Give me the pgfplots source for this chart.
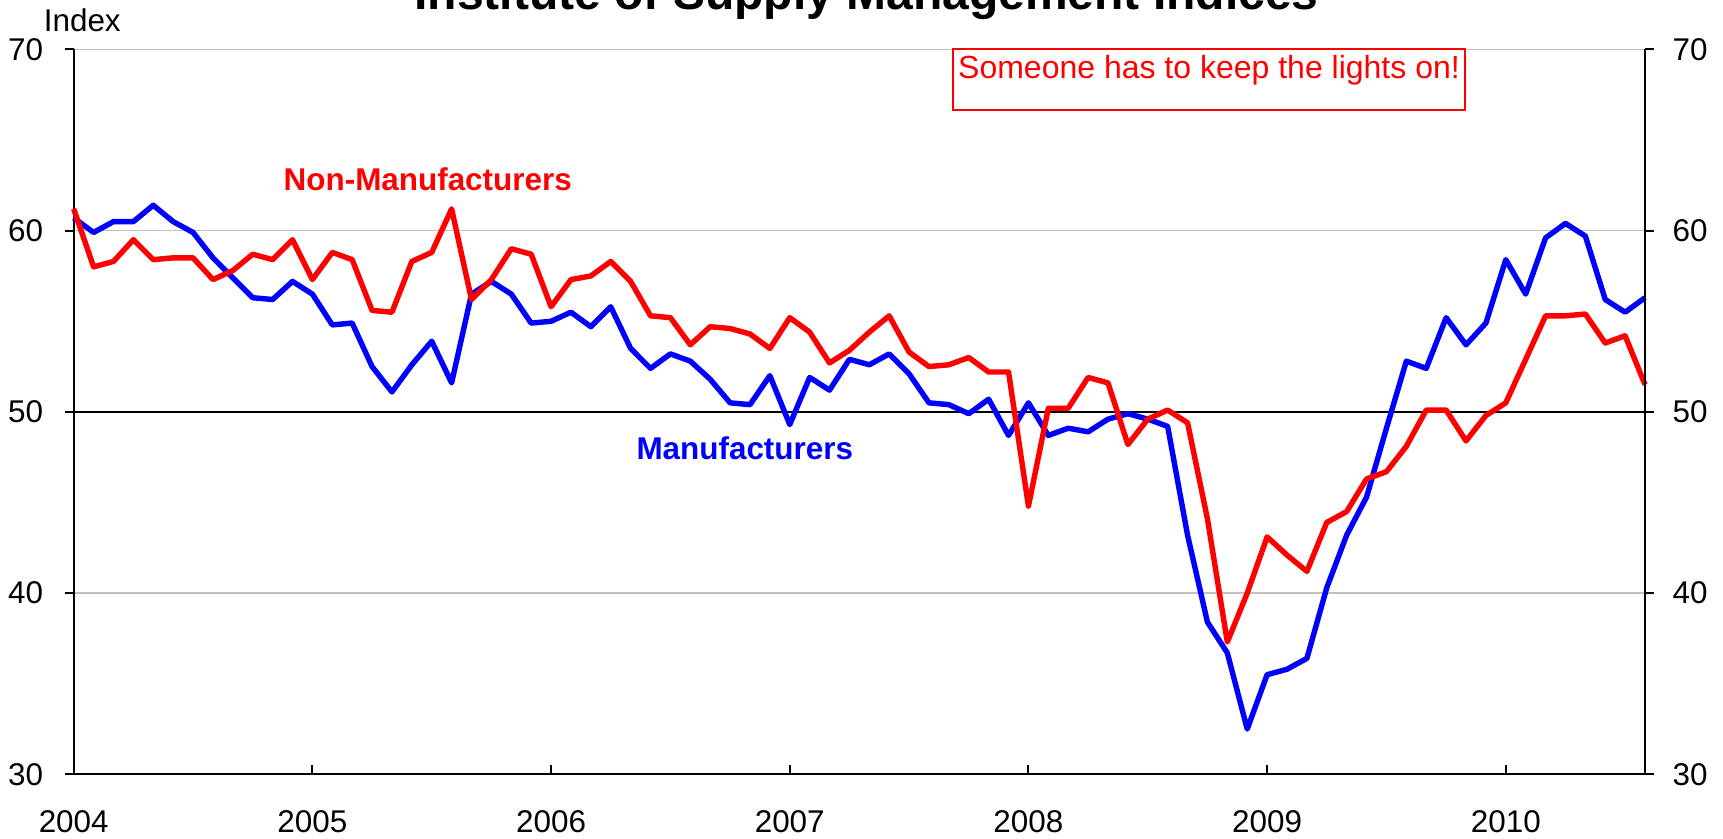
\documentclass[border=0pt]{standalone}
\usepackage{pgfplots}
\pgfplotsset{compat=1.18}
\usepackage{pgfplotstable}
\usepackage{fontspec}
\setmainfont{Liberation Sans}

\definecolor{gridgray}{RGB}{192,192,192}

% monthly index values, Jan 2004 = 0
\pgfplotstableread{
m   man   non
0   60.7  61.2
1   59.9  58.0
2   60.5  58.3
3   60.5  59.5
4   61.4  58.4
5   60.5  58.5
6   59.9  58.5
7   58.5  57.3
8   57.4  57.8
9   56.3  58.7
10  56.2  58.4
11  57.2  59.5
12  56.5  57.3
13  54.8  58.8
14  54.9  58.4
15  52.5  55.6
16  51.1  55.5
17  52.6  58.3
18  53.9  58.8
19  51.6  61.2
20  56.5  56.2
21  57.2  57.3
22  56.5  59.0
23  54.9  58.7
24  55.0  55.8
25  55.5  57.3
26  54.7  57.5
27  55.8  58.3
28  53.5  57.2
29  52.4  55.3
30  53.2  55.2
31  52.8  53.7
32  51.8  54.7
33  50.5  54.6
34  50.4  54.3
35  52.0  53.5
36  49.3  55.2
37  51.9  54.4
38  51.2  52.7
39  52.9  53.4
40  52.6  54.4
41  53.2  55.3
42  52.1  53.3
43  50.5  52.5
44  50.4  52.6
45  49.9  53.0
46  50.7  52.2
47  48.7  52.2
48  50.5  44.8
49  48.7  50.2
50  49.1  50.2
51  48.9  51.9
52  49.6  51.6
53  49.9  48.2
54  49.6  49.6
55  49.2  50.1
56  43.2  49.4
57  38.4  44.1
58  36.7  37.3
59  32.5  40.0
60  35.5  43.1
61  35.8  42.1
62  36.4  41.2
63  40.3  43.9
64  43.2  44.5
65  45.3  46.3
66  49.1  46.7
67  52.8  48.1
68  52.4  50.1
69  55.2  50.1
70  53.7  48.4
71  54.9  49.8
72  58.4  50.5
73  56.5  52.9
74  59.6  55.3
75  60.4  55.3
76  59.7  55.4
77  56.2  53.8
78  55.5  54.2
79  56.3  51.5
}\ismdata

\pgfplotsset{
  ismbase/.style={
    width=550pt, height=253.75pt, scale only axis,
    xmin=0, xmax=79, ymin=30, ymax=70,
    ytick={30,40,...,70},
    axis line style={-, line width=0.7pt, black},
    major tick length=3.15pt,
    tick style={line width=0.7pt, black},
    tick label style={font=\fontsize{11}{13}\selectfont},
    /pgf/number format/assume math mode=true,
  }
}

\begin{document}
\begin{tikzpicture}
\begin{axis}[ismbase,
  axis x line*=bottom, axis y line*=left,
  xtick={0,12,...,72},
  xticklabels={2004,2005,2006,2007,2008,2009,2010},
  xtick align=inside, ytick align=outside,
  xticklabel style={yshift=-9pt},
  yticklabel style={xshift=-4pt},
  ymajorgrids, grid style={gridgray, line width=0.45pt},
  clip=false,
]
\draw[black, line width=0.7pt] (axis cs:0,50) -- (axis cs:79,50);

\addplot[blue, line width=1.9pt, line join=round, mark=none] table[x=m, y=man] {\ismdata};
\addplot[red, line width=1.9pt, line join=round, mark=none] table[x=m, y=non] {\ismdata};

\node[red, font=\bfseries\fontsize{11}{13}\selectfont] at (axis cs:17.8,62.85) {Non-Manufacturers};
\node[blue, font=\bfseries\fontsize{11}{13}\selectfont] at (axis cs:33.74,48.0) {Manufacturers};

\draw[red, line width=0.7pt] (axis cs:44.19,66.67) rectangle (axis cs:69.97,70);
\node[red, font=\fontsize{11.2}{13}\selectfont, anchor=base west, inner sep=0pt] at (axis cs:44.44,68.42) {Someone has to keep the lights on!};

\node[font=\fontsize{11}{13}\selectfont, anchor=base, inner sep=0pt] at ([xshift=3pt, yshift=6.4pt]rel axis cs:0,1) {Index};
\node[font=\bfseries\fontsize{16.8}{19}\selectfont, anchor=base] at ([xshift=2.5pt, yshift=14pt]rel axis cs:0.5,1) {Institute of Supply Management Indices};

\coordinate (ll) at (rel axis cs:0,0);
\coordinate (ur) at (rel axis cs:1,1);
\end{axis}
\begin{axis}[ismbase,
  hide x axis,
  axis y line*=right,
  tick align=outside,
  yticklabel style={xshift=3pt},
]
\end{axis}
\pgfresetboundingbox
\useasboundingbox ([shift={(-25.8pt,-22.5pt)}]ll) rectangle ([shift={(27.3pt,17.3pt)}]ur);
\end{tikzpicture}
\end{document}
